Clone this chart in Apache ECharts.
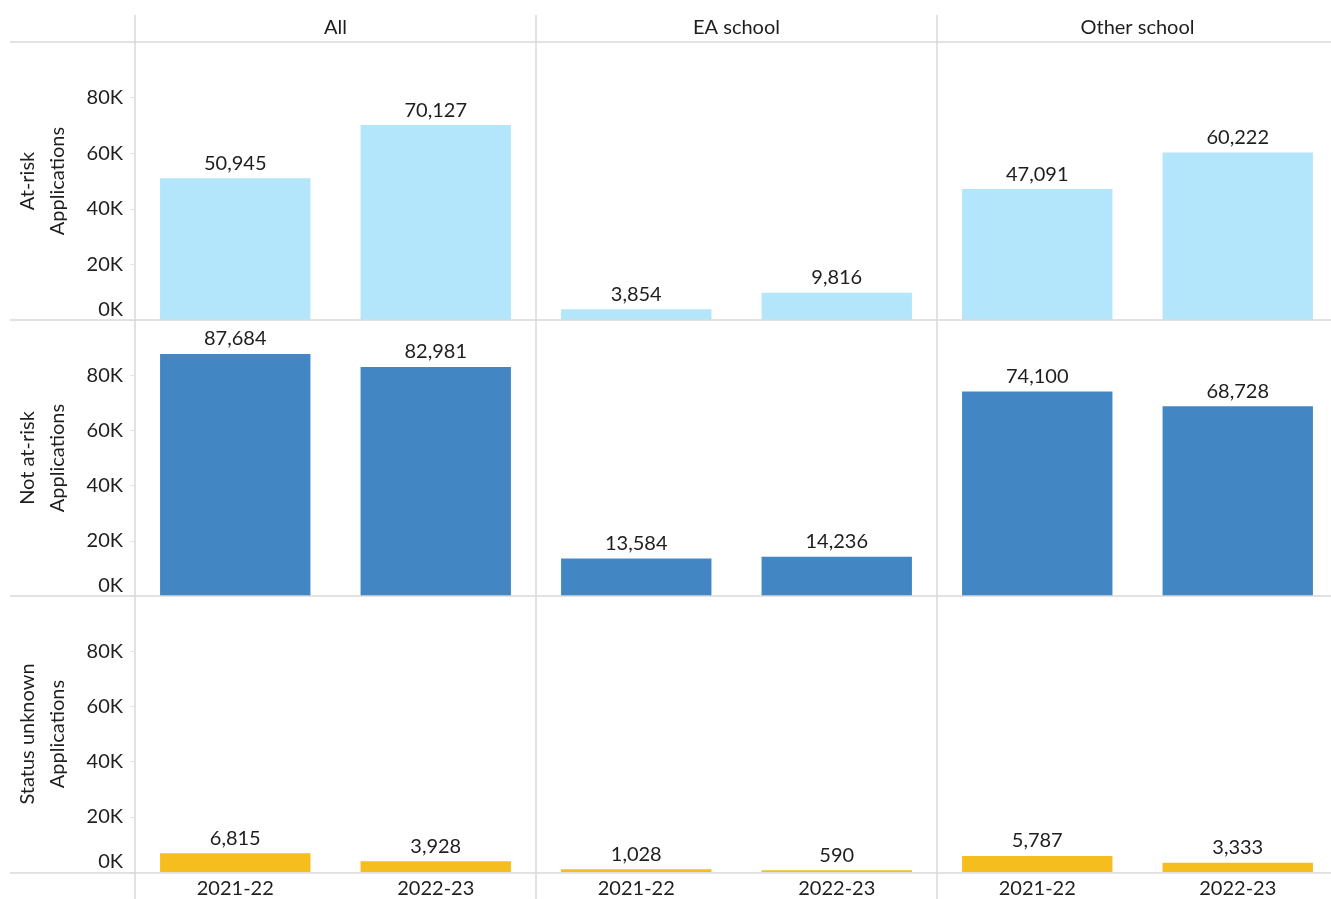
<!DOCTYPE html>
<html>
<head>
<meta charset="utf-8">
<script src="https://cdn.jsdelivr.net/npm/echarts@6/dist/echarts.min.js"></script>
<style>
  html, body { margin: 0; padding: 0; background: #fff; overflow: hidden; }
  /* the last panel runs a few pixels past the right edge of the page */
  #chart { width: 1338px; height: 899px; }
</style>
</head>
<body>
<div id="chart"></div>
<script>
// Application counts by pupil status (rows) and school type (columns)
const categories = ['2021-22', '2022-23'];
const schoolTypes = ['All', 'EA school', 'Other school'];
const statusRows = ['At-risk', 'Not at-risk', 'Status unknown'];

const atRisk = {
  'All': [50945, 70127],
  'EA school': [3854, 9816],
  'Other school': [47091, 60222]
};
const notAtRisk = {
  'All': [87684, 82981],
  'EA school': [13584, 14236],
  'Other school': [74100, 68728]
};
const statusUnknown = {
  'All': [6815, 3928],
  'EA school': [1028, 590],
  'Other school': [5787, 3333]
};

const rowData = [atRisk, notAtRisk, statusUnknown];
const rowColors = ['#b3e6fb', '#4287c4', '#f6bd1e'];

// Panel layout (pixels)
const FONT = 'Lato, "Open Sans", sans-serif';
const FS = 20;
const TEXT = '#1e1e1e';
const RULE = '#d9d9d9';
const panelLeft = [135, 536, 937];
const panelWidth = 401;
const rowTop = [42, 320, 596];
const rowHeight = [278, 276, 277];
const chartWidth = 1338;

const grids = [], xAxes = [], yAxes = [], series = [];
let idx = 0;
statusRows.forEach((rowName, r) => {
  schoolTypes.forEach((col, c) => {
    grids.push({
      left: panelLeft[c], top: rowTop[r],
      width: panelWidth,
      height: rowHeight[r],
      containLabel: false
    });
    xAxes.push({
      type: 'category', gridIndex: idx, data: categories,
      axisLine: { show: false },
      axisTick: { show: false },
      axisLabel: {
        show: r === statusRows.length - 1,
        color: TEXT, fontFamily: FONT, fontSize: FS, margin: 7
      }
    });
    yAxes.push({
      type: 'value', gridIndex: idx, min: 0, max: 100000, interval: 20000,
      splitLine: { show: false },
      axisLine: { show: false },
      axisTick: { show: c === 0, length: 5, lineStyle: { color: '#e6e6e6' } },
      axisLabel: {
        show: c === 0,
        showMaxLabel: false,
        verticalAlignMinLabel: 'bottom',
        color: TEXT, fontFamily: FONT, fontSize: FS, margin: 12,
        formatter: v => (v / 1000) + 'K'
      },
      name: c === 0 ? rowName + '\nApplications' : '',
      nameLocation: 'middle',
      nameRotate: 90,
      nameGap: 62,
      nameTextStyle: { color: TEXT, fontFamily: FONT, fontSize: FS, lineHeight: 30 }
    });
    series.push({
      type: 'bar', xAxisIndex: idx, yAxisIndex: idx,
      data: rowData[r][col],
      barCategoryGap: '25%',
      itemStyle: { color: rowColors[r] },
      label: {
        show: true, position: 'top', distance: 5,
        color: TEXT, fontFamily: FONT, fontSize: FS,
        formatter: p => p.value.toLocaleString('en-US')
      },
      silent: true,
      animation: false
    });
    idx++;
  });
});

// Header texts and separating rules
const graphics = [];
schoolTypes.forEach((col, c) => {
  graphics.push({
    type: 'text', silent: true,
    x: panelLeft[c] + panelWidth / 2, y: 28,
    style: { text: col, align: 'center', verticalAlign: 'middle', fill: TEXT, font: FS + 'px ' + FONT }
  });
});
const hLines = [42, 320, 596, 873];
hLines.forEach(y => graphics.push({
  type: 'line', silent: true, z: 10,
  shape: { x1: 10, y1: y, x2: chartWidth, y2: y },
  style: { stroke: RULE, lineWidth: 1.5 }
}));
panelLeft.forEach(x => graphics.push({
  type: 'line', silent: true, z: 10,
  shape: { x1: x, y1: 15, x2: x, y2: 899 },
  style: { stroke: RULE, lineWidth: 1.5 }
}));

const chart = echarts.init(document.getElementById('chart'), null, { renderer: 'canvas' });
chart.setOption({
  backgroundColor: '#fff',
  animation: false,
  grid: grids,
  xAxis: xAxes,
  yAxis: yAxes,
  series: series,
  graphic: graphics
});
</script>
</body>
</html>
